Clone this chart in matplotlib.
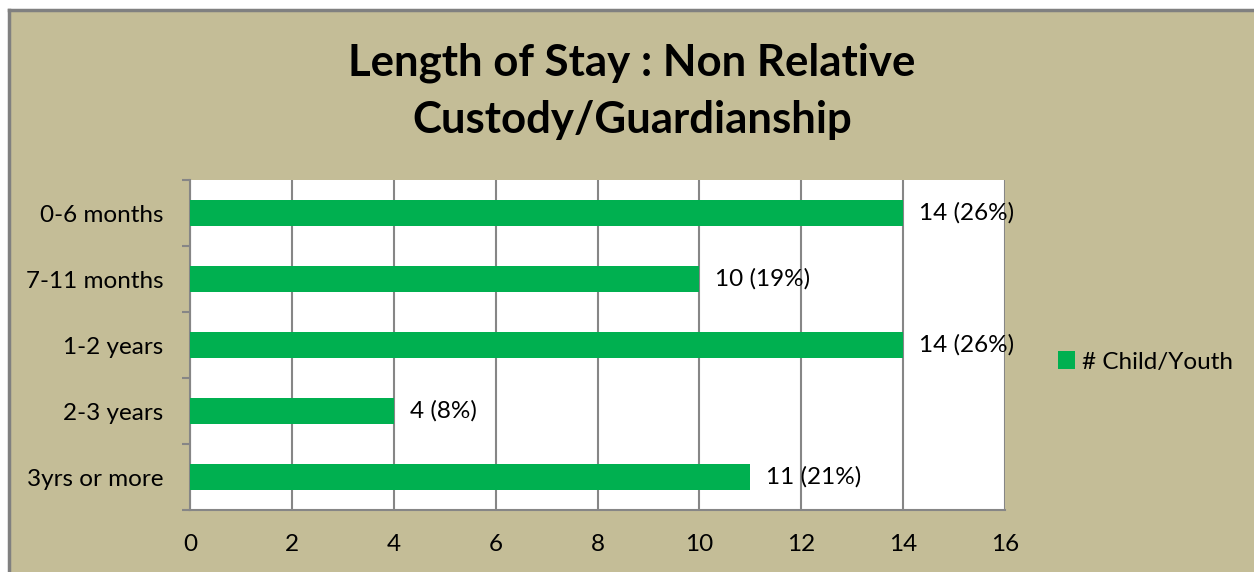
import matplotlib
matplotlib.use("Agg")
import matplotlib.pyplot as plt
from matplotlib.patches import Rectangle, Patch
from matplotlib.lines import Line2D

categories = ["0-6 months", "7-11 months", "1-2 years", "2-3 years", "3yrs or more"]
values = [14, 10, 14, 4, 11]
labels = ["14 (26%)", "10 (19%)", "14 (26%)", "4 (8%)", "11 (21%)"]
series_name = "# Child/Youth"
title = "Length of Stay : Non Relative\nCustody/Guardianship"
xticks = [0, 2, 4, 6, 8, 10, 12, 14, 16]

BG = "#C4BD97"
GREEN = "#00B050"
GRID = "#868686"
FONT = ["Lato", "DejaVu Sans"]
FS = 17.5

W, H = 1254, 572
fig = plt.figure(figsize=(W / 100, H / 100), dpi=100)
fig.patch.set_facecolor("white")
# chart area background with border on top and left only
fig.add_artist(Rectangle((9 / W, 0), 1, 1 - 10 / H, transform=fig.transFigure,
                         facecolor=BG, edgecolor="none", zorder=0))
fig.add_artist(Line2D([9 / W, 1], [1 - 10 / H, 1 - 10 / H], transform=fig.transFigure,
                      color="#808080", linewidth=2.5, zorder=1))
fig.add_artist(Line2D([9 / W, 9 / W], [0, 1 - 10 / H], transform=fig.transFigure,
                      color="#808080", linewidth=2.5, zorder=1))

ax = fig.add_axes([190 / W, 1 - 510 / H, (1005 - 190) / W, (510 - 180) / H])
ax.set_facecolor("white")
n = len(categories)
ypos = list(range(n))
ax.barh(ypos, values, height=0.4, color=GREEN, zorder=3)
ax.set_ylim(n - 0.5, -0.5)
ax.set_xlim(0, 16)
ax.set_xticks(xticks)
ax.set_xticklabels([str(t) for t in xticks], fontsize=FS, family=FONT)
ax.set_yticks(ypos)
ax.set_yticklabels(categories, fontsize=FS, family=FONT)
ax.tick_params(axis="y", length=0, pad=19)
ax.tick_params(axis="x", length=0, pad=17)
# minor ticks at category boundaries
ax.set_yticks([i - 0.5 for i in range(n + 1)], minor=True)
ax.tick_params(axis="y", which="minor", length=6, width=1.5, color=GRID)
ax.set_xticks(xticks, minor=True)
ax.tick_params(axis="x", which="minor", length=6, width=1.5, color=GRID)
ax.xaxis.grid(True, color=GRID, linewidth=1.5, zorder=1)
ax.set_axisbelow(True)
for s in ["top", "right"]:
    ax.spines[s].set_visible(False)
for s in ["left", "bottom"]:
    ax.spines[s].set_color(GRID)
    ax.spines[s].set_linewidth(1.5)

for y, v, lab in zip(ypos, values, labels):
    ax.annotate(lab, (v, y), xytext=(16, 0), textcoords="offset pixels",
                va="center", ha="left", fontsize=FS, family=FONT, zorder=5,
                annotation_clip=False)

fig.text(632 / W, 1 - 91 / H, title, ha="center", va="center", fontsize=31.5,
         fontweight="bold", family=FONT, linespacing=1.5)

leg = fig.legend(handles=[Patch(facecolor=GREEN, label=series_name)],
                 loc="center left", bbox_to_anchor=(1036 / W, 1 - 362 / H),
                 frameon=False, prop={"family": FONT, "size": FS},
                 handlelength=0.7, handleheight=0.7, handletextpad=0.3)

fig.savefig("out.png", dpi=100, facecolor=fig.get_facecolor())
